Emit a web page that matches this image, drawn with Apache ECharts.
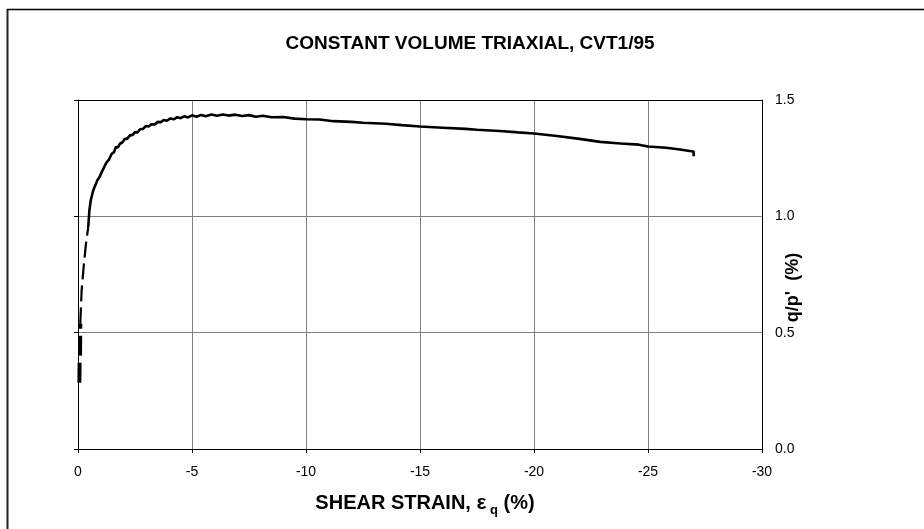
<!DOCTYPE html>
<html>
<head>
<meta charset="utf-8">
<script src="https://cdn.jsdelivr.net/npm/echarts@6/dist/echarts.min.js"></script>
<style>
html,body{margin:0;padding:0;background:#fff;}
#c{width:924px;height:529px;}
</style>
</head>
<body>
<div id="c"></div>
<script>
var titleText = 'CONSTANT VOLUME TRIAXIAL, CVT1/95';
var xTickValues = [0, -5, -10, -15, -20, -25, -30];
var xTickLabels = ['0', '-5', '-10', '-15', '-20', '-25', '-30'];
var yTickValues = [0, 0.5, 1.0, 1.5];
var yTickLabels = ['0.0', '0.5', '1.0', '1.5'];

// initial (dashed) part of curve: [shear strain %, q/p']
var initialThick = [[-0.06, 0.285], [-0.07, 0.375], [-0.09, 0.41], [-0.10, 0.54]];
var initialDashed = [[-0.10, 0.54], [-0.16, 0.682], [-0.26, 0.797], [-0.35, 0.883], [-0.45, 0.954]];
// main measured curve
var mainCurve = [
  [-0.45,0.954],[-0.50,1.026],[-0.56,1.069],[-0.67,1.112],[-0.85,1.155],[-0.95,1.170],
  [-1.04,1.190],[-1.12,1.198],[-1.20,1.222],[-1.26,1.233],[-1.36,1.244],[-1.48,1.269],
  [-1.58,1.276],[-1.66,1.298],[-1.75,1.296],[-1.84,1.312],[-1.95,1.318],[-2.05,1.332],
  [-2.16,1.334],[-2.28,1.348],[-2.40,1.350],[-2.50,1.362],[-2.62,1.361],[-2.72,1.374],
  [-2.85,1.376],[-2.98,1.388],[-3.10,1.386],[-3.22,1.396],[-3.36,1.395],[-3.50,1.406],
  [-3.62,1.404],[-3.76,1.414],[-3.90,1.411],[-4.05,1.421],[-4.20,1.417],[-4.35,1.426],
  [-4.50,1.422],[-4.66,1.430],[-4.82,1.425],[-5.00,1.434],[-5.20,1.428],[-5.40,1.436],
  [-5.60,1.430],[-5.85,1.438],[-6.10,1.432],[-6.35,1.438],[-6.60,1.433],[-6.90,1.437],
  [-7.20,1.431],[-7.50,1.435],[-7.80,1.428],[-8.10,1.432],[-8.50,1.426],[-9.00,1.427],
  [-9.50,1.420],[-10.0,1.417],[-10.6,1.416],[-11.2,1.409],[-12.0,1.406],[-12.5,1.402],
  [-13.5,1.398],[-14.2,1.392],[-15.0,1.386],[-16.0,1.381],[-17.0,1.376],[-17.5,1.372],
  [-18.5,1.367],[-19.3,1.361],[-20.0,1.356],[-21.0,1.345],[-22.0,1.333],[-22.9,1.320],
  [-23.8,1.313],[-24.6,1.308],[-25.0,1.300],[-25.8,1.295],[-26.4,1.287],[-26.9,1.280],
  [-27.0,1.279],[-27.0,1.258]
];

var FONT = '"Liberation Sans", Arial, sans-serif';
var chart = echarts.init(document.getElementById('c'), null, {renderer: 'canvas'});

function lookup(vals, labels, v) {
  for (var i = 0; i < vals.length; i++) { if (Math.abs(vals[i] - v) < 1e-9) return labels[i]; }
  return '';
}

chart.setOption({
  animation: false,
  backgroundColor: '#fff',
  title: {
    text: titleText,
    left: 465,
    top: 29,
    textAlign: 'center',
    textStyle: {fontFamily: FONT, fontSize: 19, fontWeight: 'bold', color: '#000'}
  },
  graphic: [
    {type: 'line', shape: {x1: 7.5, y1: 9, x2: 7.5, y2: 540}, style: {stroke: '#222', lineWidth: 2}},
    {type: 'line', shape: {x1: 7, y1: 9.5, x2: 930, y2: 9.5}, style: {stroke: '#000', lineWidth: 1.5}}
  ],
  grid: {left: 78, right: 162, top: 100, bottom: 80, containLabel: false},
  xAxis: [{
    type: 'value', min: -30, max: 0, interval: 5, inverse: true, position: 'bottom',
    axisLine: {show: true, onZero: false, lineStyle: {color: '#000', width: 1}},
    axisTick: {show: true, length: 4, lineStyle: {color: '#000'}},
    axisLabel: {fontFamily: FONT, fontSize: 14, color: '#000', margin: 16,
      formatter: function (v) { return lookup(xTickValues, xTickLabels, v); }},
    splitLine: {show: true, showMinLine: false, showMaxLine: false, lineStyle: {color: '#808080', width: 1}},
    name: '{a|SHEAR STRAIN, }{e|ε}{s| q}{a| (%)}',
    nameLocation: 'middle', nameGap: 42,
    nameTextStyle: {
      padding: [0, 0, 0, 10],
      rich: {
        a: {fontFamily: FONT, fontSize: 20, fontWeight: 'bold', color: '#000', lineHeight: 24, verticalAlign: 'middle'},
        e: {fontFamily: FONT, fontSize: 21, fontWeight: 'bold', color: '#000', lineHeight: 24, verticalAlign: 'middle'},
        s: {fontFamily: FONT, fontSize: 13, fontWeight: 'bold', color: '#000', lineHeight: 24, verticalAlign: 'bottom', padding: [0, 0, -2, 0]}
      }
    }
  }, {
    type: 'value', min: -30, max: 0, interval: 5, inverse: true, position: 'top',
    axisLine: {show: true, onZero: false, lineStyle: {color: '#000', width: 1}},
    axisTick: {show: false}, axisLabel: {show: false}, splitLine: {show: false}
  }],
  yAxis: [{
    type: 'value', min: 0, max: 1.5, interval: 0.5, position: 'right',
    axisLine: {show: true, onZero: false, lineStyle: {color: '#000', width: 1}},
    axisTick: {show: false},
    axisLabel: {fontFamily: FONT, fontSize: 14, color: '#000', margin: 13,
      formatter: function (v) { return lookup(yTickValues, yTickLabels, v); }},
    splitLine: {show: false},
    name: "q/p'  (%)", nameLocation: 'middle', nameRotate: 90, nameGap: 22,
    nameMoveOverlap: false,
    nameTextStyle: {fontFamily: FONT, fontSize: 18, fontWeight: 'bold', color: '#000', padding: [0, 0, 0, -26]}
  }, {
    type: 'value', min: 0, max: 1.5, interval: 0.5, position: 'left',
    axisLine: {show: true, onZero: false, lineStyle: {color: '#000', width: 1}},
    axisTick: {show: true, length: 4, lineStyle: {color: '#000'}},
    axisLabel: {show: false},
    splitLine: {show: true, showMinLine: false, showMaxLine: false, lineStyle: {color: '#808080', width: 1}}
  }],
  series: [{
    type: 'line', data: initialThick, xAxisIndex: 0, yAxisIndex: 0, showSymbol: false,
    lineStyle: {color: '#000', width: 4, type: [20, 7]}, z: 3
  }, {
    type: 'line', data: initialDashed, xAxisIndex: 0, yAxisIndex: 0, showSymbol: false,
    lineStyle: {color: '#000', width: 2.2, type: [16, 6]}, z: 3
  }, {
    type: 'line', data: mainCurve, xAxisIndex: 0, yAxisIndex: 0, showSymbol: false,
    lineStyle: {color: '#000', width: 2.6}, z: 3
  }]
});
</script>
</body>
</html>
